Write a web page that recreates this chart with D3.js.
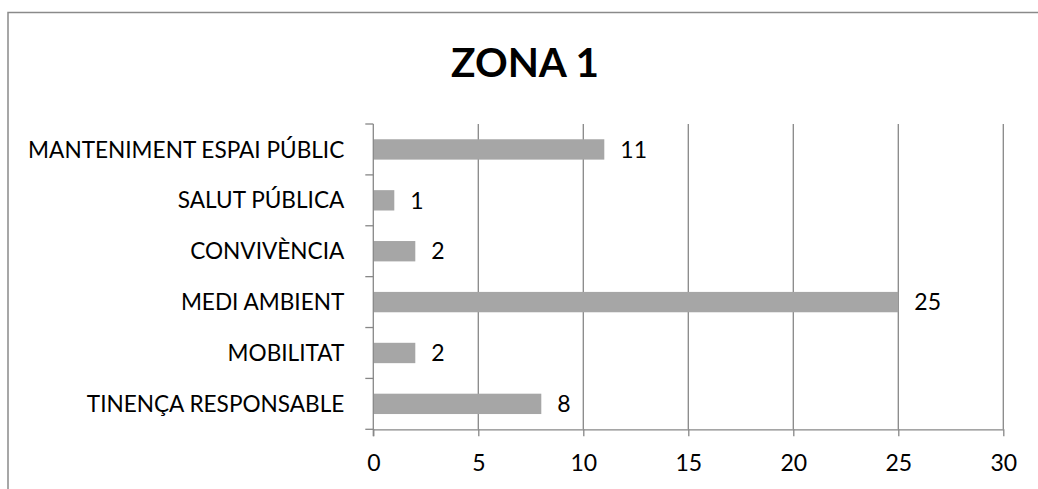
<!DOCTYPE html>
<html><head><meta charset="utf-8">
<script src="https://cdn.jsdelivr.net/npm/d3@7"></script>
<style>html,body{margin:0;padding:0;background:#fff;}svg{display:block;}</style>
</head><body>
<svg id="chart" width="1038" height="489"></svg>
<script>
const title = "ZONA 1";
const categories = ["MANTENIMENT ESPAI PÚBLIC","SALUT PÚBLICA","CONVIVÈNCIA","MEDI AMBIENT","MOBILITAT","TINENÇA RESPONSABLE"];
const values = [11, 1, 2, 25, 2, 8];
const xTicks = [0, 5, 10, 15, 20, 25, 30];

(function () {
const svg = d3.select("#chart");
const font = "Lato, 'Open Sans', sans-serif";
const gridColor = "#878787";

svg.append("rect").attr("x", 8).attr("y", 12.5).attr("width", 1100).attr("height", 600)
  .attr("fill", "none").attr("stroke", "#8a8a8a").attr("stroke-width", 1.5);

const pL = 373.3, pR = 1003.3, pT = 124, pB = 429.3;
const x = d3.scaleLinear().domain([0, 30]).range([pL, pR]);
const y = d3.scaleBand().domain(categories).range([pT, pB]).paddingInner(0.6).paddingOuter(0.3);
const yb = d3.scaleBand().domain(categories).range([pT, pB]);

svg.append("text").attr("x", 525).attr("y", 77).attr("text-anchor", "middle")
  .attr("font-family", font).attr("font-weight", "bold").attr("font-size", 40.5).text(title);

svg.append("g").selectAll("line").data(xTicks.slice(1)).join("line")
  .attr("x1", d => x(d)).attr("x2", d => x(d)).attr("y1", pT).attr("y2", pB)
  .attr("stroke", gridColor).attr("stroke-width", 1.3);

svg.append("g").selectAll("rect").data(values).join("rect")
  .attr("x", x(0)).attr("y", (d, i) => y(categories[i]))
  .attr("width", d => x(d) - x(0)).attr("height", y.bandwidth())
  .attr("fill", "#a6a6a6");

svg.append("g").selectAll("text").data(values).join("text")
  .attr("x", d => x(d) + 16).attr("y", (d, i) => y(categories[i]) + y.bandwidth() / 2)
  .attr("dy", "0.36em").attr("font-family", font).attr("font-size", 23).attr("fill", "#000")
  .text(d => d);

const xAxis = svg.append("g").attr("transform", `translate(0,${pB})`)
  .call(d3.axisBottom(x).tickValues(xTicks).tickSize(7).tickPadding(18).tickSizeOuter(0));
xAxis.select(".domain").attr("stroke", gridColor).attr("stroke-width", 1.3);
xAxis.selectAll(".tick line").attr("stroke", gridColor).attr("stroke-width", 1.3);
xAxis.selectAll("text").attr("font-family", font).attr("font-size", 23).attr("fill", "#000");

const yAxisG = svg.append("g").attr("transform", `translate(${pL},0)`);
yAxisG.append("line").attr("x1", 0).attr("x2", 0).attr("y1", pT).attr("y2", pB + 7)
  .attr("stroke", gridColor).attr("stroke-width", 1.3);
const bounds = categories.map(c => yb(c)).concat([pB]);
yAxisG.selectAll("line.t").data(bounds).join("line").attr("class", "t")
  .attr("x1", -8).attr("x2", 0).attr("y1", d => d).attr("y2", d => d)
  .attr("stroke", gridColor).attr("stroke-width", 1.3);
yAxisG.selectAll("text").data(categories).join("text")
  .attr("x", -29).attr("y", d => yb(d) + yb.bandwidth() / 2).attr("dy", "0.36em")
  .attr("text-anchor", "end").attr("font-family", font).attr("font-size", 22.6).attr("fill", "#000")
  .text(d => d);
})();
</script>
</body></html>
